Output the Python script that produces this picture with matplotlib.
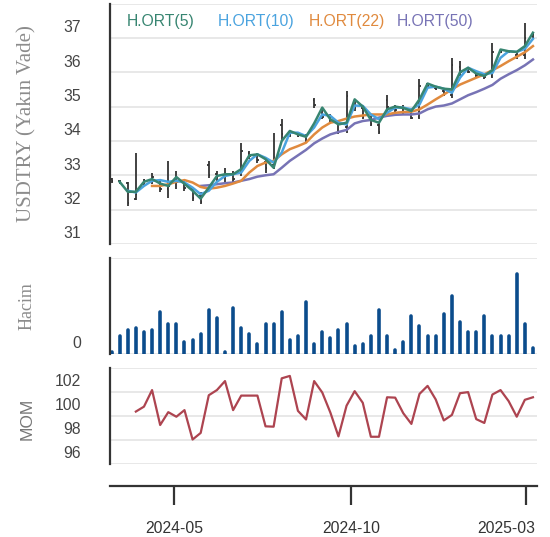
import matplotlib
matplotlib.use("Agg")
import matplotlib.pyplot as plt
import matplotlib.dates as mdates
import pandas as pd

# weekly bars, USDTRY near-term futures
dates = pd.date_range("2024-03-08", periods=53, freq="7D")

price_open = [32.88, 32.82, 32.78, 32.30, 32.75, 32.85, 32.85, 32.60, 32.95, 32.80,
              32.60, 32.40, 33.30, 33.05, 33.00, 33.05, 33.10, 33.65, 33.55, 33.40,
              33.30, 34.45, 34.25, 34.20, 34.12, 35.20, 34.90, 34.70, 34.50, 34.40,
              35.15, 34.95, 34.65, 34.45, 35.20, 35.00, 34.95, 34.80, 34.70, 35.65,
              35.55, 35.45, 35.35, 36.15, 36.05, 35.93, 35.90, 35.90, 36.62, 36.60,
              36.50, 36.50, 37.05]
price_high = [32.91, 32.86, 32.81, 33.66, 32.89, 33.08, 32.89, 33.42, 33.13, 32.84,
              32.64, 32.50, 33.42, 33.13, 33.20, 33.13, 33.95, 33.71, 33.66, 33.47,
              34.24, 34.63, 34.29, 34.24, 34.19, 35.26, 34.97, 34.77, 34.58, 35.45,
              35.21, 35.02, 34.73, 34.53, 35.33, 35.06, 35.06, 34.87, 35.81, 35.69,
              35.58, 35.55, 36.42, 36.32, 36.13, 35.96, 35.96, 36.85, 36.66, 36.63,
              36.56, 37.44, 37.15]
price_low = [32.77, 32.74, 32.11, 32.28, 32.69, 32.74, 32.50, 32.33, 32.60, 32.55,
             32.26, 32.16, 32.93, 32.84, 32.79, 32.79, 32.98, 33.47, 33.37, 33.08,
             33.18, 34.00, 34.10, 34.10, 33.95, 34.97, 34.63, 34.48, 34.19, 34.24,
             34.87, 34.63, 34.43, 34.19, 34.82, 34.82, 34.77, 34.63, 34.63, 35.55,
             35.48, 35.31, 35.26, 35.89, 35.98, 35.87, 35.81, 35.84, 36.56, 36.55,
             36.39, 36.39, 36.97]
price_close = [32.82, 32.78, 32.20, 32.45, 32.85, 32.95, 32.60, 32.70, 32.80, 32.62,
               32.35, 32.22, 33.00, 32.95, 33.05, 32.90, 33.70, 33.55, 33.45, 33.20,
               33.40, 34.20, 34.18, 34.14, 34.00, 35.05, 34.70, 34.55, 34.25, 35.30,
               34.95, 34.70, 34.50, 34.25, 35.00, 34.90, 34.85, 34.68, 35.60, 35.60,
               35.50, 35.35, 36.20, 36.00, 36.02, 35.90, 35.85, 36.60, 36.60, 36.58,
               36.45, 37.00, 37.10]

# moving averages (start at bar 2, 3, 6 and 12)
ma5 = [32.81, 32.52, 32.52, 32.81, 32.89, 32.76, 32.69, 32.95, 32.75, 32.55,
       32.32, 32.64, 32.98, 33.03, 33.03, 33.18, 33.58, 33.61, 33.47, 33.22,
       34.00, 34.29, 34.19, 34.12, 34.51, 34.97, 34.63, 34.48, 34.53, 35.21,
       35.00, 34.61, 34.53, 34.92, 35.00, 34.96, 34.87, 35.21, 35.67, 35.58,
       35.52, 35.50, 36.00, 36.13, 35.96, 35.89, 36.06, 36.66, 36.61, 36.59,
       36.76, 37.15]
ma10 = [32.55, 32.50, 32.69, 32.84, 32.86, 32.81, 32.84, 32.79, 32.64, 32.45,
        32.55, 32.81, 32.98, 33.03, 33.08, 33.42, 33.61, 33.51, 33.37, 33.66,
        34.24, 34.24, 34.14, 34.39, 34.77, 34.73, 34.53, 34.48, 35.03, 35.02,
        34.77, 34.63, 34.82, 34.97, 34.97, 34.92, 35.06, 35.55, 35.58, 35.52,
        35.40, 35.84, 36.13, 36.03, 35.94, 35.98, 36.42, 36.61, 36.59, 36.68,
        36.97]
ma22 = [32.69, 32.69, 32.74, 32.81, 32.86, 32.79, 32.66, 32.61, 32.64, 32.69,
        32.76, 32.84, 33.08, 33.27, 33.37, 33.42, 33.61, 33.76, 33.85, 33.95,
        34.19, 34.39, 34.53, 34.58, 34.65, 34.71, 34.74, 34.77, 34.77, 34.77,
        34.82, 34.84, 34.85, 34.92, 35.06, 35.21, 35.35, 35.50, 35.64, 35.74,
        35.84, 35.94, 36.06, 36.18, 36.32, 36.45, 36.58, 36.76]
ma50 = [32.69, 32.71, 32.74, 32.77, 32.79, 32.84, 32.89, 32.96, 33.00, 33.03,
        33.22, 33.42, 33.58, 33.74, 33.93, 34.07, 34.19, 34.26, 34.32, 34.51,
        34.58, 34.61, 34.68, 34.73, 34.76, 34.77, 34.77, 34.80, 34.92, 35.00,
        35.03, 35.09, 35.21, 35.33, 35.42, 35.52, 35.63, 35.81, 35.94, 36.06,
        36.20, 36.37]

volume = [1, 9, 12, 13, 11, 12, 21, 15, 15, 6,
          7, 10, 22, 18, 1, 23, 13, 10, 5, 15,
          15, 21, 7, 9, 26, 5, 11, 8, 12, 15,
          4, 5, 9, 22, 9, 2, 6, 19, 14, 9,
          9, 20, 29, 16, 11, 11, 19, 9, 9, 9,
          40, 15, 3]

# momentum, from bar 4
mom = [100.37, 100.78, 102.16, 99.25, 100.32, 99.94, 100.49, 98.04, 98.59, 101.73,
       102.16, 102.91, 100.49, 101.70, 101.70, 101.70, 99.14, 99.11, 103.14, 103.34,
       100.43, 99.71, 102.91, 101.96, 100.29, 98.30, 100.86, 102.07, 101.10, 98.27,
       98.27, 101.56, 101.53, 100.23, 99.34, 101.84, 102.51, 101.38, 99.63, 100.09,
       101.90, 101.99, 99.74, 99.42, 101.79, 102.16, 101.24, 99.94, 101.35, 101.56]

ma_names = ["H.ORT(5)", "H.ORT(10)", "H.ORT(22)", "H.ORT(50)"]
ma_colors = ["#378571", "#4aa3df", "#e08a3e", "#7773b5"]

date_ticks = ["2024-05-01", "2024-10-01", "2025-03-01"]

W, H = 550, 537
FS = 11.3
GRID = "#e6e6e6"
DARK = "#333333"

fig = plt.figure(figsize=(W / 100, H / 100), dpi=100)


def rect(top, bottom, left=110, right=537):
    return [left / W, 1 - bottom / H, (right - left) / W, (bottom - top) / H]


def style_panel(ax, ticks, labels):
    for s in ["top", "right", "bottom"]:
        ax.spines[s].set_visible(False)
    ax.spines["left"].set_color(DARK)
    ax.spines["left"].set_linewidth(1.6)
    ax.set_xticks([])
    ax.set_yticks([])
    for v in ticks:
        ax.axhline(v, color=GRID, lw=1.3, zorder=0)
    # labels sit a bit above their grid lines in the original
    for v, s in zip(ticks, labels):
        if s:
            ax.annotate(s, xy=(0, v), xycoords=("axes fraction", "data"),
                        xytext=(-21, 7.2), textcoords="offset points",
                        ha="right", va="center", fontsize=FS, color="#444444",
                        family="Liberation Sans")


x = mdates.date2num(dates)
xlim = (mdates.date2num(pd.Timestamp("2024-03-06 16:00")),
        mdates.date2num(pd.Timestamp("2025-03-10 12:00")))

# price panel
ax_p = fig.add_axes(rect(3.5, 244))
ax_p.vlines(x, price_low, price_high, color=DARK, lw=1.3, zorder=2)
ax_p.hlines(price_open, x - 1.3, x, color=DARK, lw=1.3, zorder=2)
ax_p.hlines(price_close, x, x + 1.3, color=DARK, lw=1.3, zorder=2)
ax_p.plot(x[11:], ma50, color=ma_colors[3], lw=1.8, zorder=3)
ax_p.plot(x[5:], ma22, color=ma_colors[2], lw=1.8, zorder=3)
ax_p.plot(x[2:], ma10, color=ma_colors[1], lw=1.8, zorder=3)
ax_p.plot(x[1:], ma5, color=ma_colors[0], lw=1.8, zorder=3)
ax_p.set_ylim(31, 38)
ax_p.set_xlim(xlim)
style_panel(ax_p, [31, 32, 33, 34, 35, 36, 37, 38],
            ["31", "32", "33", "34", "35", "36", "37", ""])

# volume panel
ax_v = fig.add_axes(rect(258, 354))
ax_v.vlines(x, 0, volume, color="#0b4c8c", lw=2.6, capstyle="round", zorder=2)
ax_v.set_ylim(0, 48)
ax_v.set_xlim(xlim)
style_panel(ax_v, [0, 48], ["0", ""])

# momentum panel
ax_m = fig.add_axes(rect(368, 464))
ax_m.plot(x[3:], mom, color="#ad4450", lw=1.6, zorder=2)
ax_m.set_ylim(96, 104)
ax_m.set_xlim(xlim)
style_panel(ax_m, [96, 98, 100, 102, 104], ["96", "98", "100", "102", ""])

# shared date axis
ax_x = fig.add_axes(rect(485, 486))
for s in ["top", "right", "left"]:
    ax_x.spines[s].set_visible(False)
ax_x.spines["bottom"].set_color(DARK)
ax_x.spines["bottom"].set_linewidth(1.6)
ax_x.set_yticks([])
ax_x.set_xlim(xlim)
tick_pos = mdates.date2num(pd.to_datetime(date_ticks))
ax_x.set_xticks(tick_pos)
ax_x.tick_params(axis="x", length=13.7, width=1.6, color=DARK, labelbottom=False)
for i, (tp, d) in enumerate(zip(tick_pos, date_ticks)):
    last = i == len(date_ticks) - 1
    ax_x.annotate(d[:7], xy=(tp, 0), xycoords=("data", "axes fraction"),
                  xytext=(6.5 if last else 0, -30.5), textcoords="offset points",
                  ha="right" if last else "center", va="center", fontsize=FS,
                  color=DARK, family="Liberation Sans", annotation_clip=False)

# legend
for name, col, xpos in zip(ma_names, ma_colors, [126.7, 217.3, 308.3, 396.7]):
    fig.text(xpos / W, 1 - 21.5 / H, name, color=col, fontsize=FS,
             ha="left", va="center", family="Liberation Sans")

# axis titles
fig.text(27 / W, 1 - 124 / H, "USDTRY (Yakın Vade)", rotation=90, ha="center",
         va="center", fontsize=15, color="#8c8c8c", family="Liberation Serif")
fig.text(27 / W, 1 - 306 / H, "Hacim", rotation=90, ha="center",
         va="center", fontsize=13, color="#8c8c8c", family="Liberation Serif")
fig.text(27 / W, 1 - 419 / H, "MOM", rotation=90, ha="center",
         va="center", fontsize=12.5, color="#777777", family="Liberation Sans")

fig.savefig("out.png", dpi=100)
